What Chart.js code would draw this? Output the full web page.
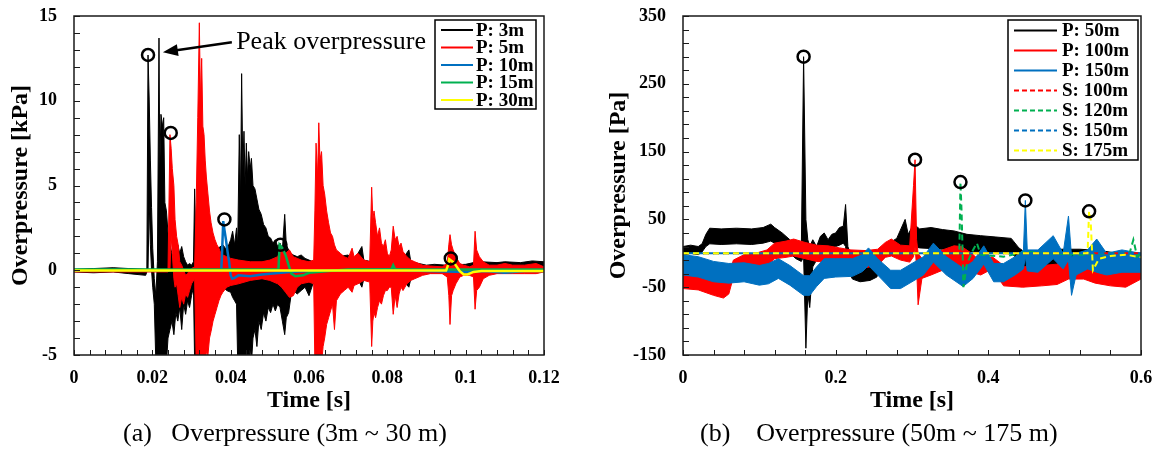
<!DOCTYPE html>
<html>
<head>
<meta charset="utf-8">
<title>Overpressure</title>
<script src="https://cdn.jsdelivr.net/npm/chart.js@4.4.1/dist/chart.umd.min.js"></script>
<style>
  body { margin: 0; background: #fff; }
  #wrap { position: relative; width: 1163px; height: 450px; overflow: hidden; font-family: 'Liberation Serif', 'Times New Roman', serif; }
  canvas { position: absolute; top: 0; }
  #chartA { left: 0; }
  #chartB { left: 580px; }
  .caption { position: absolute; top: 418px; font-size: 26px; line-height: 30px; white-space: pre; color: #000; }
</style>
</head>
<body>
<div id="wrap">
  <canvas id="chartA" width="575" height="420"></canvas>
  <canvas id="chartB" width="583" height="420"></canvas>
  <div class="caption" style="left:123px">(a)   Overpressure (3m ~ 30 m)</div>
  <div class="caption" style="left:700px">(b)    Overpressure (50m ~ 175 m)</div>
</div>
<script>
// ---------- panel (a): overpressure 3 m ~ 30 m [kPa] ----------
const namesA = ['P: 3m', 'P: 5m', 'P: 10m', 'P: 15m', 'P: 30m'];
const xLabelsA = [0, 0.02, 0.04, 0.06, 0.08, 0.1, 0.12];
const yLabelsA = [-5, 0, 5, 10, 15];

// P: 3m, dense signal read as upper / lower envelope
const timeA3 = [0, 0.005, 0.01, 0.014, 0.0183, 0.0186, 0.0189, 0.0192, 0.0195, 0.0198,
  0.0201, 0.0205, 0.0209, 0.0213, 0.0217, 0.0219, 0.0222, 0.0226, 0.0229, 0.0232,
  0.0236, 0.024, 0.0245, 0.025, 0.0255, 0.026, 0.0265, 0.027, 0.0275, 0.028,
  0.0285, 0.029, 0.0295, 0.03, 0.0305, 0.0308, 0.0312, 0.0316, 0.0325, 0.035,
  0.038, 0.039, 0.04, 0.0405, 0.041, 0.0415, 0.0418, 0.0422, 0.0425, 0.0428,
  0.0431, 0.0434, 0.0437, 0.044, 0.0443, 0.0446, 0.045, 0.0453, 0.0457, 0.0462,
  0.0467, 0.0472, 0.0478, 0.0484, 0.049, 0.0496, 0.0502, 0.0508, 0.0514, 0.052,
  0.0526, 0.0532, 0.0538, 0.0542, 0.0548, 0.0554, 0.056, 0.057, 0.058, 0.059,
  0.06, 0.061, 0.065, 0.07, 0.071, 0.072, 0.0735, 0.074, 0.076, 0.08,
  0.084, 0.0855, 0.086, 0.088, 0.09, 0.092, 0.095, 0.1, 0.102, 0.104,
  0.108, 0.11, 0.114, 0.117, 0.12];
const hiA3 = [0.05, 0.1, 0.15, 0.1, 0.05, 0.1, 12.7, 10.1, 6.5, 3.7,
  1.3, -0.5, -1.5, 0.5, 13.7, 6, 9.2, 8.5, 9.0, 4.0,
  3.5, 2.2, 1.5, 1.0, 0.5, 0.6, 1.5, 1.0, 1.4, 0.8,
  0.5, 0.3, 0.4, 0.3, 0.5, 4.8, 1.0, 0.5, 0.6, 1.0,
  1.5, 1.2, 1.8, 2.3, 1.5, 2.5, 1.5, 8.0, 4.0, 11.6,
  6.0, 8.2, 5.0, 7.5, 5.5, 7.0, 6.0, 6.6, 5.0, 4.8,
  4.2, 3.6, 3.3, 2.7, 2.5, 2.0, 1.9, 1.6, 1.8, 1.4,
  1.6, 1.2, 3.3, 1.5, 1.2, 1.0, 0.9, 0.8, 0.9, 0.7,
  0.6, 0.5, 0.7, 0.9, 0.6, 0.8, 1.4, 0.6, 0.5, 0.6,
  0.7, 1.2, 0.5, 0.4, 0.3, 0.35, 0.3, 0.35, 0.45, 0.5,
  0.45, 0.5, 0.45, 0.55, 0.5];
const loA3 = [-0.1, -0.15, -0.1, -0.2, -0.3, -0.1, 0.0, 4, 1.5, 0,
  -1, -2, -5.5, -5.5, -5.5, -5.5, -5.5, -5.5, -5.5, -5.5,
  -5.5, -4.0, -3.5, -3.0, -3.8, -2.5, -3.0, -2.2, -3.5, -2.0,
  -2.6, -1.8, -2.2, -1.5, -1.0, -5.5, -5.5, -3.0, -2.0, -1.5,
  -1.0, -1.2, -1.3, -1.6, -1.8, -2.0, -5.5, -5.5, -5.5, -5.5,
  -5.5, -5.5, -5.5, -5.5, -5.5, -5.5, -4.5, -5.5, -4.0, -3.5,
  -4.5, -3.0, -3.5, -2.5, -3.0, -2.2, -2.5, -2.0, -2.4, -2.0,
  -2.2, -3.0, -3.8, -2.8, -2.5, -1.5, -1.2, -1.4, -1.2, -1.0,
  -1.5, -0.8, -0.6, -0.5, -0.4, -0.3, -1.0, -0.5, -0.4, -0.5,
  -0.6, -1.0, -0.5, -0.3, -0.2, -0.1, -0.1, 0.0, 0.05, 0.1,
  0.1, 0.1, 0.1, 0.1, 0.1];

// P: 5m, upper / lower envelope
const timeA5 = [0, 0.01, 0.02, 0.024, 0.0245, 0.0248, 0.0251, 0.0255, 0.0258, 0.0262,
  0.0266, 0.027, 0.0275, 0.028, 0.0285, 0.029, 0.0295, 0.03, 0.0308, 0.0312,
  0.0316, 0.032, 0.0323, 0.0326, 0.0329, 0.0332, 0.0335, 0.0338, 0.0342, 0.0346,
  0.035, 0.0355, 0.036, 0.0365, 0.037, 0.0375, 0.038, 0.039, 0.04, 0.042,
  0.045, 0.048, 0.05, 0.052, 0.053, 0.054, 0.055, 0.056, 0.057, 0.058,
  0.06, 0.0612, 0.0615, 0.0618, 0.0622, 0.0625, 0.0628, 0.0632, 0.0636, 0.064,
  0.0645, 0.065, 0.0655, 0.066, 0.0665, 0.067, 0.068, 0.069, 0.07, 0.071,
  0.0715, 0.0725, 0.074, 0.0755, 0.076, 0.0763, 0.0766, 0.077, 0.0775, 0.078,
  0.0785, 0.079, 0.0795, 0.08, 0.0805, 0.081, 0.0815, 0.082, 0.0825, 0.083,
  0.0835, 0.084, 0.085, 0.086, 0.087, 0.089, 0.091, 0.094, 0.0953, 0.0957,
  0.096, 0.0964, 0.0968, 0.0975, 0.0985, 0.0995, 0.101, 0.102, 0.1024, 0.1028,
  0.1035, 0.1045, 0.106, 0.108, 0.11, 0.112, 0.115, 0.118, 0.12];
const hiA5 = [0.05, 0.05, 0.05, 0.05, 8.0, 7.2, 6.0, 5.0, 3.0, 2.0,
  1.5, 0.5, 0.3, 0.0, -0.3, -0.2, 0.0, 0.1, 0.2, 4.0,
  9.0, 14.6, 10.0, 12.5, 8.5, 8.0, 6.5, 5.5, 4.5, 3.5,
  2.8, 2.2, 1.8, 1.5, 1.3, 1.0, 0.9, 0.8, 0.7, 0.6,
  0.5, 0.5, 0.6, 0.8, 1.3, 1.0, 1.2, 0.8, 0.7, 0.6,
  0.5, 0.6, 3.5, 7.5, 5.5, 8.7, 6.5, 7.0, 5.0, 4.5,
  3.5, 2.8, 2.2, 2.0, 1.5, 1.2, 1.0, 0.8, 0.7, 1.3,
  0.8, 1.0, 0.6, 0.5, 4.9, 3.0, 3.5, 2.8, 2.0, 2.5,
  1.6, 1.4, 1.8, 1.0, 0.8, 1.2, 2.6, 1.8, 2.0, 1.4,
  1.6, 1.1, 0.8, 0.6, 0.5, 0.3, 0.25, 0.2, 0.4, 1.5,
  2.1, 1.5, 1.2, 0.8, 0.4, 0.3, 0.2, 0.3, 2.3, 1.2,
  0.8, 0.5, 0.3, 0.3, 0.4, 0.3, 0.3, 0.4, 0.2];
const loA5 = [-0.1, -0.1, -0.1, -0.1, 0.0, 2, 1, -0.5, -1.0, -0.8,
  -1.5, -2.2, -1.6, -2.0, -1.4, -1.6, -1.2, -0.8, -0.5, -5.5,
  -5.5, -5.5, -5.5, -5.5, -5.5, -5.5, -5.5, -4.8, -5.0, -4.0,
  -3.6, -3.0, -2.6, -2.2, -1.8, -1.5, -1.3, -1.0, -0.9, -0.8,
  -0.6, -0.5, -0.6, -0.8, -1.0, -1.3, -1.6, -1.5, -1.0, -0.8,
  -0.7, -0.8, -5.5, -5.5, -5.5, -5.5, -5.5, -5.5, -4.5, -4.0,
  -3.2, -2.8, -2.4, -2.0, -3.5, -1.8, -1.4, -1.2, -1.0, -1.3,
  -0.9, -0.8, -0.6, -0.7, -4.5, -3.0, -2.5, -2.8, -2.2, -1.8,
  -2.0, -1.5, -1.2, -1.2, -1.0, -1.0, -2.6, -1.5, -2.2, -1.4,
  -1.0, -1.2, -0.8, -0.6, -0.5, -0.3, -0.2, -0.2, -0.4, -1.5,
  -3.2, -1.5, -1.2, -0.8, -0.4, -0.3, -0.3, -0.4, -2.3, -1.2,
  -1.0, -0.5, -0.3, -0.2, -0.2, -0.2, -0.2, -0.2, -0.1];

const timeA10 = [0, 0.01, 0.02, 0.03, 0.0376, 0.0378, 0.0381, 0.0384, 0.0388, 0.0392,
  0.0396, 0.04, 0.0404, 0.041, 0.042, 0.045, 0.048, 0.05, 0.055, 0.06,
  0.07, 0.08, 0.09, 0.1, 0.105, 0.11, 0.115, 0.12];
const valA10 = [0, 0.02, 0, -0.02, 0, 1.0, 2.9, 2.4, 1.8, 1.1,
  0.5, -0.3, -0.5, -0.45, -0.3, -0.35, -0.25, -0.2, -0.1, -0.05,
  0, 0.05, -0.05, -0.1, -0.05, -0.15, -0.05, -0.05];

const timeA15 = [0, 0.05, 0.0522, 0.0525, 0.0532, 0.054, 0.0548, 0.0555, 0.0565, 0.0585,
  0.06, 0.065, 0.07, 0.081, 0.0815, 0.082, 0.12];
const valA15 = [0.05, 0.05, 0.05, 1.5, 1.3, 0.9, 0.3, -0.2, -0.35, -0.3,
  -0.15, -0.05, 0.05, 0.05, 0.3, 0.05, 0.05];

const timeA30 = [0, 0.095, 0.0955, 0.0958, 0.097, 0.0985, 0.0995, 0.1005, 0.102, 0.104, 0.11, 0.12];
const valA30 = [-0.02, -0.02, 0.3, 0.65, 0.45, -0.05, -0.25, -0.25, -0.1, -0.05, -0.05, -0.05];

const peakTimeA = [0.0189, 0.0247, 0.0384, 0.0527, 0.0962];
const peakValA = [12.7, 8.1, 3.0, 1.5, 0.7];

// ---------- panel (b): overpressure 50 m ~ 175 m [Pa] ----------
const namesB = ['P: 50m', 'P: 100m', 'P: 150m', 'S: 100m', 'S: 120m', 'S: 150m', 'S: 175m'];
const xLabelsB = [0, 0.2, 0.4, 0.6];
const yLabelsB = [-150, -50, 50, 150, 250, 350];

const timeB50 = [0, 0.01, 0.02, 0.025, 0.03, 0.035, 0.05, 0.07, 0.09, 0.105,
  0.115, 0.12, 0.13, 0.14, 0.148, 0.155, 0.158, 0.161, 0.1635, 0.166,
  0.17, 0.175, 0.18, 0.185, 0.19, 0.195, 0.2, 0.205, 0.21, 0.213,
  0.216, 0.222, 0.232, 0.245, 0.254, 0.26, 0.27, 0.28, 0.291, 0.295,
  0.302, 0.31, 0.325, 0.34, 0.355, 0.372, 0.39, 0.41, 0.43, 0.44,
  0.45, 0.47, 0.488, 0.495, 0.52, 0.546, 0.57, 0.6];
const hiB50 = [10, 12, 10, 14, 28, 37, 36, 37, 36, 38,
  43, 38, 30, 20, 10, 5, 290, 50, 20, 10,
  20, 10, 25, 30, 20, 28, 30, 38, 40, 72,
  10, -10, -15, -18, -12, 5, 15, 22, 50, 28,
  43, 36, 38, 35, 33, 28, 26, 24, 22, 8,
  0, -3, 0, 6, 6, 4, 0, 0];
const loB50 = [-3, 0, -2, 2, 10, 14, 13, 14, 13, 15,
  18, 15, 8, 0, -8, -12, -5, -140, -60, -80,
  -20, -10, 0, 5, 5, 8, 10, 12, 15, 10,
  -25, -38, -42, -40, -35, -10, 0, 6, 8, 8,
  10, 8, 7, 6, 5, 3, 2, 1, 0, -10,
  -25, -28, -20, -8, -8, -10, -12, -12];

const timeB100 = [0, 0.02, 0.04, 0.053, 0.06, 0.066, 0.08, 0.095, 0.11, 0.12,
  0.135, 0.145, 0.16, 0.175, 0.19, 0.205, 0.22, 0.24, 0.255, 0.265,
  0.273, 0.285, 0.297, 0.302, 0.304, 0.306, 0.308, 0.313, 0.325, 0.34,
  0.355, 0.365, 0.378, 0.39, 0.405, 0.42, 0.445, 0.47, 0.49, 0.505,
  0.525, 0.54, 0.56, 0.58, 0.6];
const hiB100 = [-26, -28, -32, -36, -32, -10, -2, 0, 5, 15,
  18, 21, 16, 12, 11, 8, 5, 4, 6, 16,
  21, 12, 11, 100, 138, 20, 0, -8, -5, 5,
  11, 10, 0, -12, -5, -18, -20, -18, -16, -12,
  -14, -18, -22, -24, -18];
const loB100 = [-52, -54, -62, -66, -60, -35, -27, -24, -19, -8,
  -6, -4, -8, -12, -13, -17, -20, -21, -18, -6,
  -4, -10, -13, -5, 10, -20, -76, -37, -32, -25,
  -20, -22, -28, -32, -23, -48, -50, -48, -46, -38,
  -38, -44, -48, -50, -38];

const timeB150 = [0, 0.02, 0.04, 0.06, 0.08, 0.1, 0.112, 0.125, 0.14, 0.158,
  0.166, 0.175, 0.185, 0.2, 0.222, 0.235, 0.243, 0.255, 0.272, 0.285,
  0.3, 0.315, 0.328, 0.345, 0.367, 0.38, 0.394, 0.407, 0.42, 0.435,
  0.446, 0.4485, 0.451, 0.465, 0.485, 0.498, 0.505, 0.509, 0.515, 0.53,
  0.542, 0.555, 0.575, 0.6];
const hiB150 = [-2, -5, -12, -15, -14, -18, -15, -8, -18, -33,
  -33, -20, -8, -8, -8, -2, 8, -8, -25, -25,
  -15, -5, 15, -5, -22, -12, 11, -15, -15, -5,
  5, 78, 5, 5, 26, 0, 55, -5, 0, 5,
  21, 0, 5, 0];
const loB150 = [-32, -35, -42, -44, -42, -47, -45, -37, -47, -62,
  -62, -49, -37, -35, -34, -27, -18, -32, -52, -52,
  -42, -32, -13, -32, -49, -37, -16, -42, -42, -32,
  -23, -5, -26, -28, -8, -23, -10, -62, -32, -23,
  -28, -32, -28, -28];

const timeS100 = [0, 0.6];
const valS100 = [0, 0];
const timeS120 = [0, 0.362, 0.3635, 0.365, 0.3674, 0.372, 0.38, 0.385, 0.39, 0.42,
  0.45, 0.48, 0.52, 0.56, 0.585, 0.59, 0.595, 0.6];
const valS120 = [0, 0, 105, 60, -50, -15, 5, 15, -2, -5,
  2, 0, -2, 0, 0, 20, -5, 0];
const timeS150 = [0, 0.6];
const valS150 = [0, 0];
const timeS175 = [0, 0.53, 0.532, 0.534, 0.537, 0.545, 0.56, 0.58, 0.6];
const valS175 = [0, 0, 62, 50, -25, -8, -4, -2, -6];

const peakTimeB = [0.158, 0.304, 0.3635, 0.4485, 0.532];
const peakValB = [290, 138, 105, 78, 62];

// ---------- helpers ----------
const FONT = "'Liberation Serif', 'Times New Roman', serif";
Chart.defaults.font.family = FONT;
Chart.defaults.color = '#000';

const BLACK = '#000000', RED = '#ff0000', BLUE = '#0070c0', GREEN = '#00b050', YELLOW = '#ffff00';

function pts(t, v) {
    return t.map((x, i) => ({ x: x, y: v[i] }));
}

// dense noisy record: fill between its upper and lower envelope
function bandSets(t, hi, lo, color, order) {
    return [
        { data: pts(t, hi), borderColor: color, borderWidth: 1, pointRadius: 0, fill: false, order: order },
        { data: pts(t, lo), borderColor: color, borderWidth: 1, pointRadius: 0, backgroundColor: color, fill: '-1', order: order }
    ];
}

function lineSet(t, v, color, width, dash, dashOffset, order) {
    return { data: pts(t, v), borderColor: color, borderWidth: width, borderDash: dash, borderDashOffset: dashOffset,
             pointRadius: 0, fill: false, order: order };
}

function peakSet(t, v) {
    return { data: pts(t, v), showLine: false, pointRadius: 6, pointHoverRadius: 6, pointBorderWidth: 2.5,
             pointBorderColor: '#000', pointBackgroundColor: 'rgba(0,0,0,0)', borderColor: '#000', order: 0 };
}

function labelFor(v, list) {
    const hit = list.find(l => Math.abs(l - v) < 1e-9);
    return hit === undefined ? '' : String(hit);
}

function scalesFor(o) {
    return {
        x: {
            type: 'linear', min: o.xMin, max: o.xMax,
            ticks: { stepSize: o.xStep, autoSkip: false, maxRotation: 0, padding: 13,
                     font: { size: 18, weight: 'bold' }, callback: v => labelFor(v, o.xLabels) },
            grid: { display: false, drawTicks: false }, border: { display: false },
            title: { display: true, text: 'Time [s]', font: { size: 24, weight: 'bold' }, padding: { top: 0, bottom: 5 } },
            afterFit: s => { s.height = 65; s.paddingLeft = 0; s.paddingRight = 0; }
        },
        y: {
            type: 'linear', min: o.yMin, max: o.yMax,
            ticks: { stepSize: o.yStep, autoSkip: false, padding: o.yPad,
                     font: { size: 18, weight: 'bold' }, callback: v => labelFor(v, o.yLabels) },
            grid: { display: false, drawTicks: false }, border: { display: false },
            title: { display: true, text: o.yTitle, font: { size: 24, weight: 'bold' }, padding: { top: 4, bottom: 0 } },
            afterFit: s => { s.width = o.yWidth; s.paddingTop = 0; s.paddingBottom = 0; }
        }
    };
}

// plot frame and inward tick marks
function framePlugin(yEvery, yBase) {
    return {
        id: 'frame',
        afterDatasetsDraw(chart) {
            const { ctx, chartArea: a, scales } = chart;
            ctx.save();
            ctx.strokeStyle = '#1a1a1a';
            ctx.lineWidth = 1;
            ctx.beginPath();
            scales.x.ticks.forEach(t => {
                const px = Math.round(scales.x.getPixelForValue(t.value)) + 0.5;
                ctx.moveTo(px, a.bottom);
                ctx.lineTo(px, a.bottom - 5);
            });
            scales.y.ticks.forEach(t => {
                const k = (t.value - yBase) / yEvery;
                if (Math.abs(k - Math.round(k)) > 1e-6) return;
                const py = Math.round(scales.y.getPixelForValue(t.value)) + 0.5;
                ctx.moveTo(a.left, py);
                ctx.lineTo(a.left + 6, py);
            });
            ctx.stroke();
            ctx.lineWidth = 1.5;
            ctx.strokeRect(a.left, a.top, a.right - a.left, a.bottom - a.top);
            ctx.restore();
        }
    };
}

function legendPlugin(names, colors, dashed, box) {
    return {
        id: 'boxLegend',
        afterDraw(chart) {
            const ctx = chart.ctx;
            ctx.save();
            ctx.fillStyle = '#fff';
            ctx.fillRect(box.x, box.y, box.w, box.h);
            ctx.strokeStyle = '#000';
            ctx.lineWidth = 1.5;
            ctx.strokeRect(box.x, box.y, box.w, box.h);
            ctx.font = 'bold ' + box.font + 'px ' + FONT;
            ctx.textBaseline = 'middle';
            names.forEach((n, i) => {
                const y = box.row0 + i * box.gap;
                ctx.strokeStyle = colors[i];
                ctx.lineWidth = 2;
                ctx.setLineDash(dashed[i] ? [5, 3] : []);
                ctx.beginPath();
                ctx.moveTo(box.l0, y);
                ctx.lineTo(box.l1, y);
                ctx.stroke();
                ctx.setLineDash([]);
                ctx.fillStyle = '#000';
                ctx.fillText(n, box.tx, y + 1);
            });
            ctx.restore();
        }
    };
}

const peakNote = {
    id: 'peakNote',
    afterDraw(chart) {
        const { ctx, scales: { x, y } } = chart;
        const tipX = x.getPixelForValue(0.0227), tipY = y.getPixelForValue(12.86);
        const tailX = x.getPixelForValue(0.0403), tailY = y.getPixelForValue(13.45);
        const ang = Math.atan2(tipY - tailY, tipX - tailX);
        const head = 15, half = 6;
        ctx.save();
        ctx.strokeStyle = '#000';
        ctx.fillStyle = '#000';
        ctx.lineWidth = 2.5;
        ctx.beginPath();
        ctx.moveTo(tailX, tailY);
        ctx.lineTo(tipX - head * 0.8 * Math.cos(ang), tipY - head * 0.8 * Math.sin(ang));
        ctx.stroke();
        ctx.beginPath();
        ctx.moveTo(tipX, tipY);
        ctx.lineTo(tipX - head * Math.cos(ang) + half * Math.sin(ang), tipY - head * Math.sin(ang) - half * Math.cos(ang));
        ctx.lineTo(tipX - head * Math.cos(ang) - half * Math.sin(ang), tipY - head * Math.sin(ang) + half * Math.cos(ang));
        ctx.closePath();
        ctx.fill();
        ctx.font = '26px ' + FONT;
        ctx.textBaseline = 'middle';
        ctx.fillText('Peak overpressure', x.getPixelForValue(0.0414), tailY);
        ctx.restore();
    }
};

// ---------- chart (a) ----------
const setsA = [
    peakSet(peakTimeA, peakValA),
    lineSet(timeA30, valA30, YELLOW, 2.5, [], 0, 1),
    lineSet(timeA15, valA15, GREEN, 2.5, [], 0, 2),
    lineSet(timeA10, valA10, BLUE, 2.5, [], 0, 3),
    ...bandSets(timeA5, hiA5, loA5, RED, 4),
    ...bandSets(timeA3, hiA3, loA3, BLACK, 5)
];

new Chart(document.getElementById('chartA'), {
    type: 'line',
    data: { datasets: setsA },
    options: {
        responsive: false,
        animation: false,
        events: [],
        layout: { padding: { left: 2, top: 16, right: 31, bottom: 0 } },
        plugins: { legend: { display: false }, tooltip: { enabled: false } },
        scales: scalesFor({ xMin: 0, xMax: 0.12, xStep: 0.004, xLabels: xLabelsA,
                            yMin: -5, yMax: 15, yStep: 1, yLabels: yLabelsA, yPad: 17, yWidth: 72,
                            yTitle: 'Overpressure [kPa]' })
    },
    plugins: [
        framePlugin(1, 0),
        peakNote,
        legendPlugin(namesA, [BLACK, RED, BLUE, GREEN, YELLOW], [false, false, false, false, false],
            { x: 435, y: 20, w: 101, h: 89, row0: 30, gap: 17.5, l0: 441, l1: 473, tx: 476, font: 19 })
    ]
});

// ---------- chart (b) ----------
const setsB = [
    peakSet(peakTimeB, peakValB),
    lineSet(timeS175, valS175, YELLOW, 2, [6, 4], 0, 1),
    lineSet(timeS150, valS150, BLUE, 2, [6, 4], 5, 2),
    lineSet(timeS120, valS120, GREEN, 2, [6, 4], 0, 3),
    lineSet(timeS100, valS100, RED, 2, [6, 4], 0, 4),
    ...bandSets(timeB150, hiB150, loB150, BLUE, 5),
    ...bandSets(timeB100, hiB100, loB100, RED, 6),
    ...bandSets(timeB50, hiB50, loB50, BLACK, 7)
];

new Chart(document.getElementById('chartB'), {
    type: 'line',
    data: { datasets: setsB },
    options: {
        responsive: false,
        animation: false,
        events: [],
        layout: { padding: { left: 20, top: 16, right: 22, bottom: 0 } },
        plugins: { legend: { display: false }, tooltip: { enabled: false } },
        scales: scalesFor({ xMin: 0, xMax: 0.6, xStep: 0.04, xLabels: xLabelsB,
                            yMin: -150, yMax: 350, yStep: 10, yLabels: yLabelsB, yPad: 17, yWidth: 83,
                            yTitle: 'Overpressure [Pa]' })
    },
    plugins: [
        framePlugin(20, -150),
        legendPlugin(namesB, [BLACK, RED, BLUE, RED, GREEN, BLUE, YELLOW], [false, false, false, true, true, true, true],
            { x: 428, y: 20, w: 130, h: 140, row0: 30.5, gap: 20, l0: 434, l1: 477, tx: 482, font: 19 })
    ]
});
</script>
</body>
</html>
